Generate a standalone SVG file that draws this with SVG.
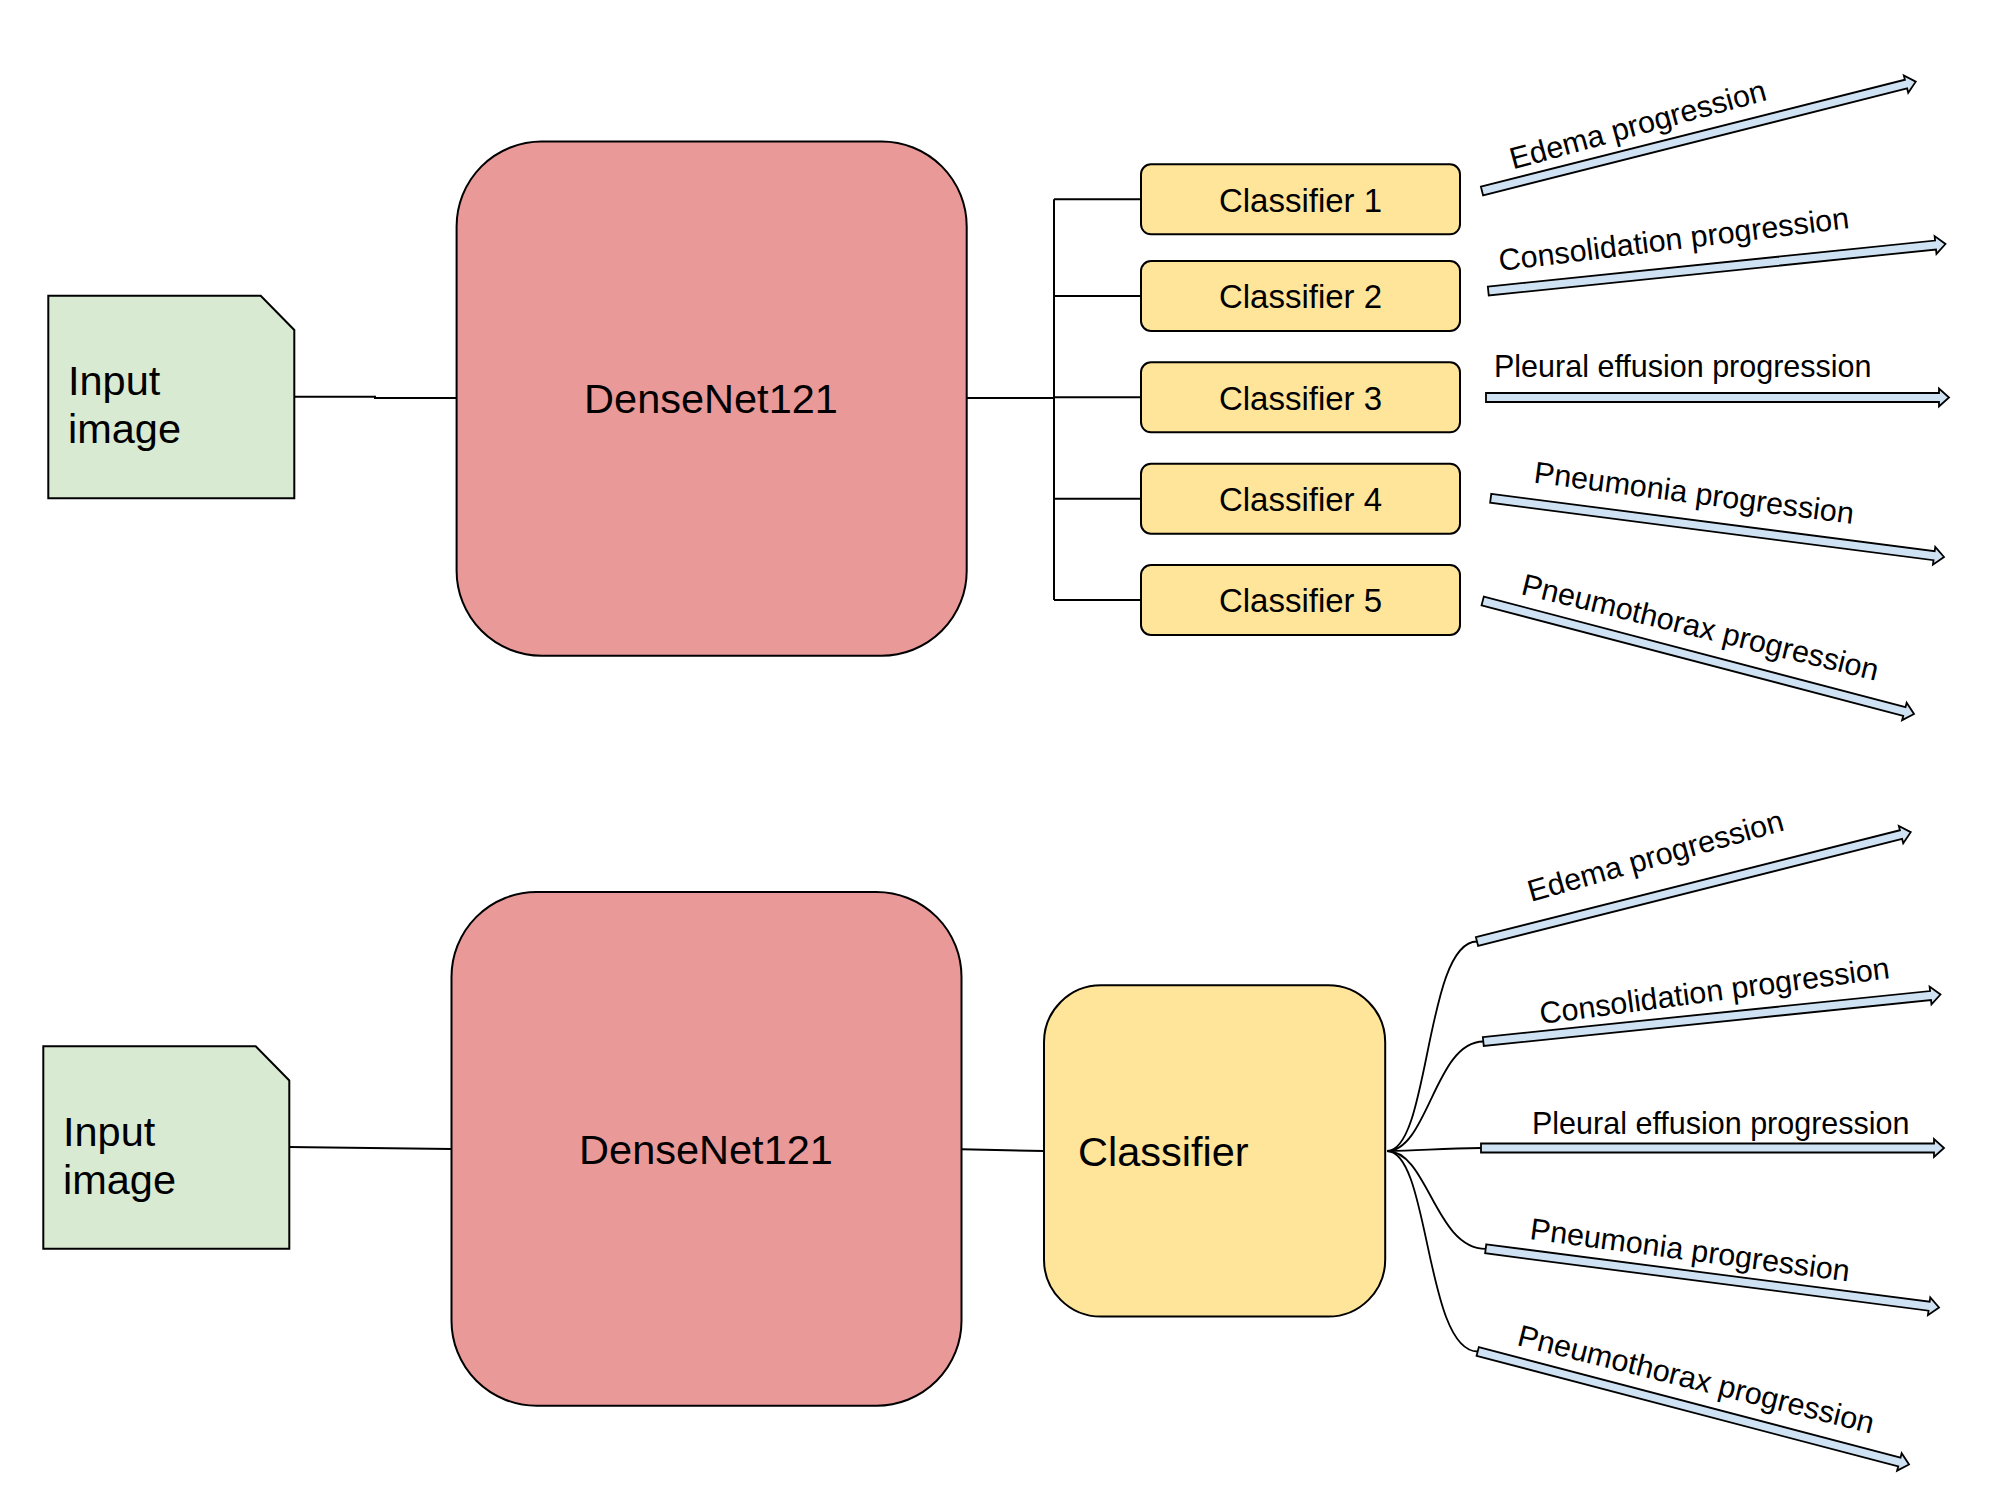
<svg xmlns="http://www.w3.org/2000/svg" width="2000" height="1500" viewBox="0 0 2000 1500">
<style>
text{font-family:"Liberation Sans",Arial,sans-serif;fill:#000}
.doc{fill:#d9ead3;stroke:#000;stroke-width:2}
.dn{fill:#ea9999;stroke:#000;stroke-width:2}
.cls{fill:#ffe599;stroke:#000;stroke-width:2}
.big{font-size:41.5px}
.mid{font-size:33px}
.lbl{font-size:30.5px}
.ln{fill:none;stroke:#000;stroke-width:2}
.cv{fill:none;stroke:#000;stroke-width:1.8}
.blk{fill:#cfe2f3;stroke:#000;stroke-width:1.8;stroke-linejoin:miter}
</style>
<rect width="2000" height="1500" fill="#fff"/>

<g id="connectors">
  <!-- top -->
  <polyline class="ln" points="294,396.7 375,396.7 375,398 456.6,398"/>
  <line class="ln" x1="966.7" y1="398" x2="1054" y2="398" stroke-width="3"/>
  <line class="ln" x1="1054" y1="199.3" x2="1054" y2="600"/>
  <line class="ln" x1="1054" y1="199.3" x2="1141" y2="199.3"/>
  <line class="ln" x1="1054" y1="296" x2="1141" y2="296"/>
  <line class="ln" x1="1054" y1="397.3" x2="1141" y2="397.3"/>
  <line class="ln" x1="1054" y1="498.7" x2="1141" y2="498.7"/>
  <line class="ln" x1="1054" y1="600" x2="1141" y2="600"/>
  <!-- bottom -->
  <line class="ln" x1="288.3" y1="1147" x2="451.5" y2="1149"/>
  <line class="ln" x1="961.5" y1="1149.3" x2="1044" y2="1151"/>
  <path class="cv" d="M1387,1151 C1430,1151 1425,941.5 1477,941.5"/>
  <path class="cv" d="M1387,1151 C1428,1151 1435,1041.5 1483.3,1041.5"/>
  <path class="cv" d="M1387,1151 C1420,1151 1440,1148 1481,1148"/>
  <path class="cv" d="M1387,1151 C1428,1151 1435,1248.8 1485.7,1248.8"/>
  <path class="cv" d="M1387,1151 C1430,1151 1425,1351.5 1477.7,1351.5"/>
</g>

<g id="top-input">
  <path class="doc" d="M48.3,295.7 H260.7 L294.3,330 V498.3 H48.3 Z"/>
  <text class="big" x="68" y="395">Input</text>
  <text class="big" x="68" y="443.3">image</text>
</g>
<g id="top-densenet">
  <rect class="dn" x="456.6" y="141.5" width="510.1" height="514.2" rx="85" ry="85"/>
  <text class="big" x="711" y="413" text-anchor="middle">DenseNet121</text>
</g>
<g id="classifier-1">
  <rect class="cls" x="1141" y="164.3" width="319" height="70" rx="10"/>
  <text class="mid" x="1300.5" y="211.7" text-anchor="middle">Classifier 1</text>
</g>
<g id="classifier-2">
  <rect class="cls" x="1141" y="261" width="319" height="70" rx="10"/>
  <text class="mid" x="1300.5" y="308.4" text-anchor="middle">Classifier 2</text>
</g>
<g id="classifier-3">
  <rect class="cls" x="1141" y="362.3" width="319" height="70" rx="10"/>
  <text class="mid" x="1300.5" y="409.7" text-anchor="middle">Classifier 3</text>
</g>
<g id="classifier-4">
  <rect class="cls" x="1141" y="463.7" width="319" height="70" rx="10"/>
  <text class="mid" x="1300.5" y="511.1" text-anchor="middle">Classifier 4</text>
</g>
<g id="classifier-5">
  <rect class="cls" x="1141" y="565" width="319" height="70" rx="10"/>
  <text class="mid" x="1300.5" y="612.4" text-anchor="middle">Classifier 5</text>
</g>

<g id="top-outputs">
  <path class="blk" transform="translate(1482,191) rotate(-14.15)" d="M0,-4.5 H437.3 V-9 L447.3,0 L437.3,9 V4.5 H0 Z"/>
  <path class="blk" transform="translate(1488.3,291) rotate(-5.87)" d="M0,-4.5 H449.6 V-9 L459.6,0 L449.6,9 V4.5 H0 Z"/>
  <path class="blk" transform="translate(1486,397.5)" d="M0,-4.5 H453 V-9 L463,0 L453,9 V4.5 H0 Z"/>
  <path class="blk" transform="translate(1490.7,498.3) rotate(7.38)" d="M0,-4.5 H447.1 V-9 L457.1,0 L447.1,9 V4.5 H0 Z"/>
  <path class="blk" transform="translate(1482.7,601) rotate(14.68)" d="M0,-4.5 H435.9 V-9 L445.9,0 L435.9,9 V4.5 H0 Z"/>
  <text class="lbl" transform="translate(1513,169.5) rotate(-15.3)">Edema progression</text>
  <text class="lbl" transform="translate(1500,271) rotate(-7)">Consolidation progression</text>
  <text class="lbl" x="1494" y="377">Pleural effusion progression</text>
  <text class="lbl" transform="translate(1533,482.5) rotate(7.4)">Pneumonia progression</text>
  <text class="lbl" transform="translate(1520,594) rotate(13.7)">Pneumothorax progression</text>
</g>

<g id="bottom-input">
  <path class="doc" d="M43.3,1046.2 H255.7 L289.3,1080.5 V1248.8 H43.3 Z"/>
  <text class="big" x="63" y="1145.5">Input</text>
  <text class="big" x="63" y="1193.8">image</text>
</g>
<g id="bottom-densenet">
  <rect class="dn" x="451.5" y="892" width="510" height="513.7" rx="85" ry="85"/>
  <text class="big" x="706" y="1163.5" text-anchor="middle">DenseNet121</text>
</g>
<g id="bottom-classifier">
  <rect class="cls" x="1044" y="985.3" width="341.2" height="331.3" rx="57" ry="57"/>
  <text style="font-size:41.5px" x="1078" y="1166">Classifier</text>
</g>

<g id="bottom-outputs">
  <path class="blk" transform="translate(1477,941.5) rotate(-14.15)" d="M0,-4.5 H437.3 V-9 L447.3,0 L437.3,9 V4.5 H0 Z"/>
  <path class="blk" transform="translate(1483.3,1041.5) rotate(-5.87)" d="M0,-4.5 H449.6 V-9 L459.6,0 L449.6,9 V4.5 H0 Z"/>
  <path class="blk" transform="translate(1481,1148)" d="M0,-4.5 H453 V-9 L463,0 L453,9 V4.5 H0 Z"/>
  <path class="blk" transform="translate(1485.7,1248.8) rotate(7.38)" d="M0,-4.5 H447.1 V-9 L457.1,0 L447.1,9 V4.5 H0 Z"/>
  <path class="blk" transform="translate(1477.7,1351.5) rotate(14.68)" d="M0,-4.5 H435.9 V-9 L445.9,0 L435.9,9 V4.5 H0 Z"/>
  <text class="lbl" transform="translate(1531,902) rotate(-15.8)">Edema progression</text>
  <text class="lbl" transform="translate(1541,1024) rotate(-7.5)">Consolidation progression</text>
  <text class="lbl" x="1532" y="1133.5">Pleural effusion progression</text>
  <text class="lbl" transform="translate(1529,1239) rotate(7.6)">Pneumonia progression</text>
  <text class="lbl" transform="translate(1516,1345) rotate(14)">Pneumothorax progression</text>
</g>
</svg>
